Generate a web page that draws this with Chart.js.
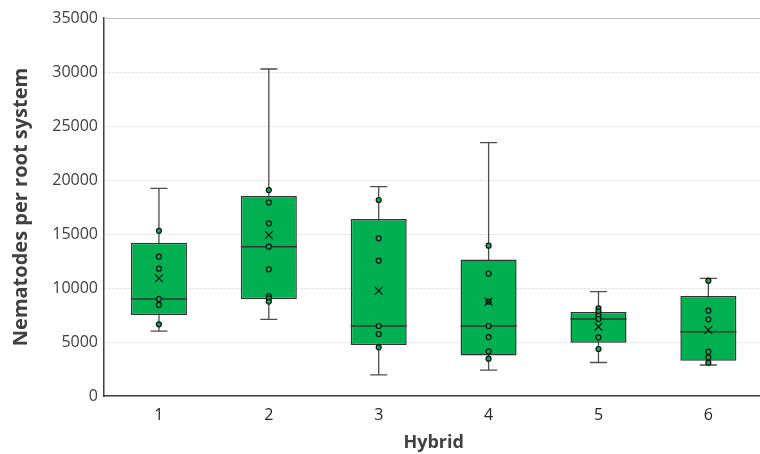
<!DOCTYPE html>
<html>
<head>
<meta charset="utf-8">
<script src="https://cdn.jsdelivr.net/npm/chart.js@4.4.1/dist/chart.umd.min.js"></script>
<style>
  html, body { margin: 0; padding: 0; background: #fff; overflow: hidden; }
  #wrap { width: 770px; height: 454px; }
</style>
</head>
<body>
<div id="wrap"><canvas id="boxChart"></canvas></div>
<script>
// Hybrid categories
const hybrids = ['1', '2', '3', '4', '5', '6'];

// Box statistics
const whiskerLow  = [6000, 7100, 1950, 2400, 3100, 2870];
const quartile1   = [7500, 8950, 4720, 3740, 4940, 3270];
const medians     = [8980, 13830, 6480, 6480, 7130, 5960];
const quartile3   = [14190, 18520, 16390, 12650, 7780, 9260];
const whiskerHigh = [19230, 30280, 19380, 23460, 9660, 10900];
const means       = [10900, 14910, 9750, 8740, 6420, 6110];

// Individual observations per hybrid
const obs1 = [15300, 12900, 11790, 8980, 8430, 6640];
const obs2 = [19070, 17930, 15990, 13830, 11730, 9260, 9040, 8740];
const obs3 = [18150, 14600, 12530, 6480, 5740, 4510];
const obs4 = [13920, 11330, 8740, 6480, 5460, 4140, 3460];
const obs5 = [8120, 7840, 7440, 7130, 5430, 4350];
const obs6 = [10680, 7900, 7100, 4100, 3580, 3090];

const yTicks = [0, 5000, 10000, 15000, 20000, 25000, 30000, 35000];

const green = '#00b050';
const dark = '#333333';

const allObs = [obs1, obs2, obs3, obs4, obs5, obs6];
const pointData = [];
allObs.forEach((list, i) => {
    list.forEach(v => pointData.push({ x: hybrids[i], y: v }));
});

// whiskers behind boxes, medians on top of boxes
const boxExtras = {
    id: 'boxExtras',
    beforeDatasetsDraw(chart) {
        const { ctx, chartArea, scales: { x, y } } = chart;
        ctx.save();
        ctx.strokeStyle = '#bfbfbf';
        ctx.lineWidth = 1.2;
        ctx.beginPath();
        ctx.moveTo(chartArea.left, Math.round(chartArea.top) + 0.5);
        ctx.lineTo(chartArea.right, Math.round(chartArea.top) + 0.5);
        ctx.stroke();

        ctx.strokeStyle = '#4d4d4d';
        ctx.lineWidth = 1.3;
        hybrids.forEach((h, i) => {
            const cx = x.getPixelForValue(i);
            const yl = y.getPixelForValue(whiskerLow[i]);
            const yh = y.getPixelForValue(whiskerHigh[i]);
            ctx.beginPath();
            ctx.moveTo(cx, yl);
            ctx.lineTo(cx, yh);
            ctx.moveTo(cx - 8.5, yl);
            ctx.lineTo(cx + 8.5, yl);
            ctx.moveTo(cx - 8.5, yh);
            ctx.lineTo(cx + 8.5, yh);
            ctx.stroke();
        });
        ctx.restore();
    },
    afterDatasetDraw(chart, args) {
        if (args.index !== 0) return;
        const { ctx, scales: { y } } = chart;
        const meta = chart.getDatasetMeta(0);
        ctx.save();
        ctx.strokeStyle = dark;
        ctx.lineWidth = 1.5;
        meta.data.forEach((bar, i) => {
            const half = bar.width / 2;
            const ym = y.getPixelForValue(medians[i]);
            ctx.beginPath();
            ctx.moveTo(bar.x - half, ym);
            ctx.lineTo(bar.x + half, ym);
            ctx.stroke();
        });
        ctx.restore();
    }
};

new Chart(document.getElementById('boxChart'), {
    type: 'bar',
    data: {
        labels: hybrids,
        datasets: [
            {
                label: 'Box',
                data: hybrids.map((h, i) => [quartile1[i], quartile3[i]]),
                backgroundColor: green,
                borderColor: dark,
                borderWidth: 1.5,
                borderSkipped: false,
                barPercentage: 0.51,
                categoryPercentage: 1.0,
                order: 3
            },
            {
                type: 'line',
                label: 'Observations',
                data: pointData,
                showLine: false,
                pointRadius: 2.5,
                pointBackgroundColor: green,
                pointBorderColor: '#111111',
                pointBorderWidth: 1.2,
                order: 2
            },
            {
                type: 'line',
                label: 'Mean',
                data: hybrids.map((h, i) => ({ x: h, y: means[i] })),
                showLine: false,
                pointStyle: 'crossRot',
                pointRadius: 5.5,
                pointBorderColor: '#111111',
                pointBorderWidth: 1.2,
                order: 1
            }
        ]
    },
    options: {
        responsive: true,
        maintainAspectRatio: false,
        animation: false,
        layout: { padding: { top: 18, right: 4, left: 0, bottom: 0 } },
        plugins: {
            legend: { display: false },
            tooltip: { enabled: false }
        },
        scales: {
            x: {
                offset: true,
                grid: { display: false, drawTicks: false },
                border: { display: true, color: '#404040', width: 1.5 },
                ticks: {
                    color: '#262626',
                    padding: 10,
                    font: { family: 'Open Sans', size: 16 }
                },
                title: {
                    display: true,
                    text: 'Hybrid',
                    color: '#404040',
                    padding: { top: 0, bottom: 0 },
                    font: { family: 'Open Sans', size: 18, weight: 'bold' }
                },
                afterFit(scale) { scale.height = 58; }
            },
            y: {
                min: 0,
                max: 35000,
                afterBuildTicks(scale) {
                    scale.ticks = yTicks.map(v => ({ value: v }));
                },
                grid: {
                    color: '#d9d9d9',
                    drawTicks: false
                },
                border: { display: true, color: '#404040', width: 1.5, dash: [2, 2] },
                ticks: {
                    color: '#404040',
                    padding: 6,
                    font: { family: 'Open Sans', size: 16 },
                    callback: v => String(v)
                },
                title: {
                    display: true,
                    text: 'Nematodes per root system',
                    color: '#404040',
                    padding: { top: 9, bottom: 0 },
                    font: { family: 'Open Sans', size: 20, weight: 'bold' }
                },
                afterFit(scale) { scale.width = 104; }
            }
        }
    },
    plugins: [boxExtras]
});
</script>
</body>
</html>
